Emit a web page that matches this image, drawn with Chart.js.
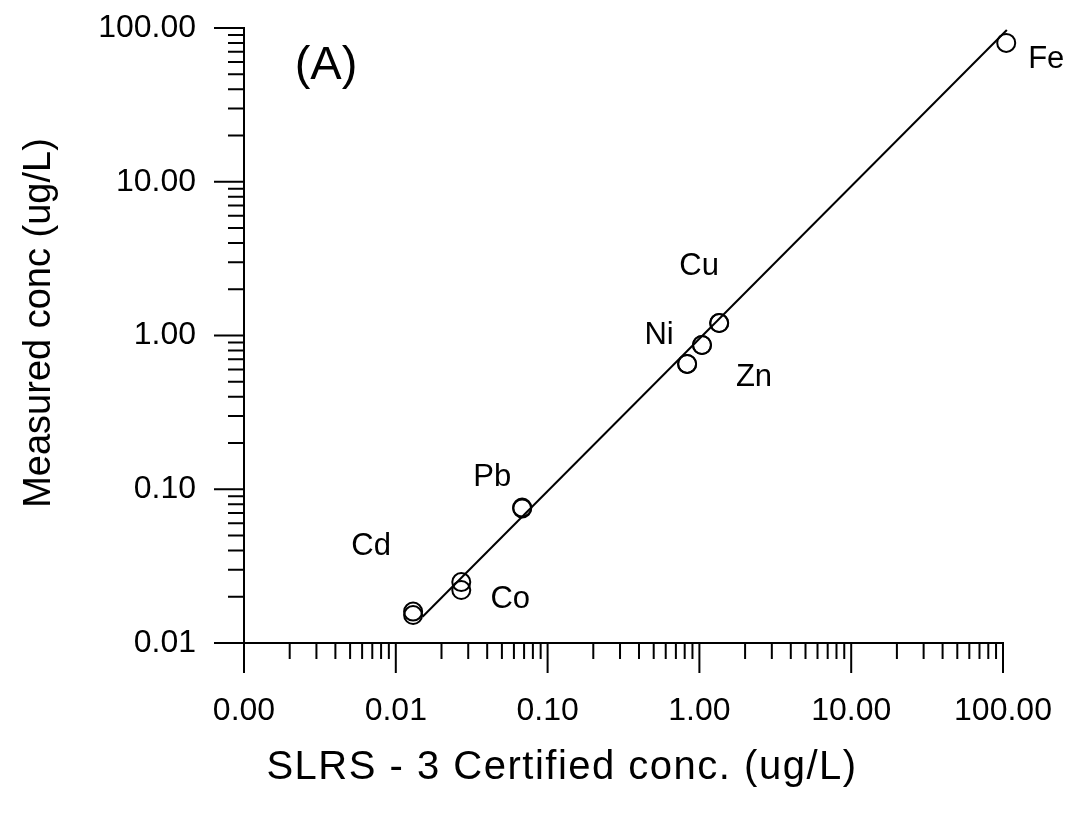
<!DOCTYPE html>
<html>
<head>
<meta charset="utf-8">
<script src="https://cdn.jsdelivr.net/npm/chart.js@4/dist/chart.umd.min.js"></script>
<style>
  html, body { margin: 0; padding: 0; background: #fff; }
  #grafico { display: block; }
</style>
</head>
<body>
<canvas id="grafico" width="1068" height="815"></canvas>
<script>
// valores (A)
const elementos = ["Cd", "Co", "Pb", "Ni", "Zn", "Cu", "Fe"];
const certificado = [0.013, 0.027, 0.068, 0.83, 1.04, 1.35, 105];
const medido1 = [0.016, 0.0249, 0.076, 0.653, 0.867, 1.205, 80];
const medido2 = [0.0152, 0.0221, 0.075, 0.653, 0.867, 1.205, 74];

// reta de ajuste (extremos)
const retaX = [0.015, 106];
const retaY = [0.0148, 97];

const ticksX = [0.001, 0.01, 0.1, 1, 10, 100];
const ticksY = [0.01, 0.1, 1, 10, 100];

const tituloX = "SLRS - 3 Certified conc. (ug/L)";
const tituloY = "Measured conc (ug/L)";
const painel = "(A)";

const fonte = "'Liberation Sans', Arial, sans-serif";

// deslocamento (px) de cada rotulo em relacao ao ponto
const deslocRotulo = {
    Cd: [-42, -65], Co: [49, 17], Pb: [-30, -30], Ni: [-28, -29],
    Zn: [52, 32], Cu: [-20, -57], Fe: [40, 17]
};

let pontos = [];
for (let i = 0; i < elementos.length; i++) {
    pontos.push({ x: certificado[i], y: medido1[i] });
    pontos.push({ x: certificado[i], y: medido2[i] });
}
let reta = retaX.map((v, i) => ({ x: v, y: retaY[i] }));

function marcasLog(escala, eixoX) {
    const ctx = escala.ctx;
    const area = escala.chart.chartArea;
    const maiores = eixoX ? ticksX : ticksY;
    ctx.save();
    ctx.strokeStyle = "#000";
    ctx.lineWidth = 2;
    ctx.beginPath();
    maiores.forEach(d => {
        for (let k = 1; k <= 9; k++) {
            let v = d * k;
            if (v > maiores[maiores.length - 1] * 1.0001) break;
            let comp = (k === 1) ? 30 : 16;
            let p = escala.getPixelForValue(v);
            if (eixoX) {
                ctx.moveTo(p, area.bottom);
                ctx.lineTo(p, area.bottom + comp);
            } else {
                ctx.moveTo(area.left - comp, p);
                ctx.lineTo(area.left, p);
            }
        }
    });
    ctx.stroke();

    // rotulos dos ticks maiores
    ctx.fillStyle = "#000";
    ctx.font = "32px " + fonte;
    ctx.textBaseline = "middle";
    maiores.forEach(d => {
        let p = escala.getPixelForValue(d);
        if (eixoX) {
            ctx.textAlign = "center";
            ctx.fillText(d.toFixed(2), p, area.bottom + 68);
        } else {
            ctx.textAlign = "right";
            ctx.fillText(d.toFixed(2), area.left - 48, p);
        }
    });
    ctx.restore();
}

const textos = {
    id: "textos",
    afterDraw(chart) {
        const ctx = chart.ctx;
        const sx = chart.scales.x;
        const sy = chart.scales.y;
        const area = chart.chartArea;

        marcasLog(sx, true);
        marcasLog(sy, false);

        ctx.save();
        ctx.fillStyle = "#000";
        ctx.textAlign = "center";
        ctx.textBaseline = "middle";

        ctx.font = "31px " + fonte;
        elementos.forEach((el, i) => {
            let px = sx.getPixelForValue(certificado[i]);
            let py = sy.getPixelForValue(medido1[i]);
            let d = deslocRotulo[el];
            ctx.fillText(el, px + d[0], py + d[1]);
        });

        ctx.font = "47px " + fonte;
        ctx.fillText(painel, area.left + 82, area.top + 38);

        ctx.font = "40px " + fonte;
        ctx.letterSpacing = "1.5px";
        ctx.fillText(tituloX, 562, 768);
        ctx.letterSpacing = "0px";

        ctx.font = "38px " + fonte;
        ctx.translate(40, 323);
        ctx.rotate(-Math.PI / 2);
        ctx.fillText(tituloY, 0, 0);
        ctx.restore();
    }
};

const ctx = document.getElementById("grafico").getContext("2d");
new Chart(ctx, {
    type: "scatter",
    data: {
        datasets: [{
            label: "Medido",
            data: pontos,
            showLine: false,
            clip: false,
            pointStyle: "circle",
            pointRadius: 9,
            pointBorderWidth: 2,
            pointBackgroundColor: "rgba(0,0,0,0)",
            pointBorderColor: "#000"
        }, {
            label: "Ajuste",
            data: reta,
            showLine: true,
            clip: false,
            borderColor: "#000",
            borderWidth: 2,
            pointRadius: 0
        }]
    },
    options: {
        responsive: false,
        animation: false,
        events: [],
        layout: { padding: { left: 0, top: 28, right: 65, bottom: 0 } },
        plugins: {
            legend: { display: false },
            tooltip: { enabled: false }
        },
        scales: {
            x: {
                type: "logarithmic",
                min: 0.001,
                max: 100,
                grid: { display: false, drawTicks: false },
                border: { display: true, color: "#000", width: 2 },
                ticks: { display: false },
                afterBuildTicks: s => { s.ticks = ticksX.map(v => ({ value: v })); },
                afterFit: s => { s.height = 172; }
            },
            y: {
                type: "logarithmic",
                min: 0.01,
                max: 100,
                grid: { display: false, drawTicks: false },
                border: { display: true, color: "#000", width: 2 },
                ticks: { display: false },
                afterBuildTicks: s => { s.ticks = ticksY.map(v => ({ value: v })); },
                afterFit: s => { s.width = 244; }
            }
        }
    },
    plugins: [textos]
});
</script>
</body>
</html>
